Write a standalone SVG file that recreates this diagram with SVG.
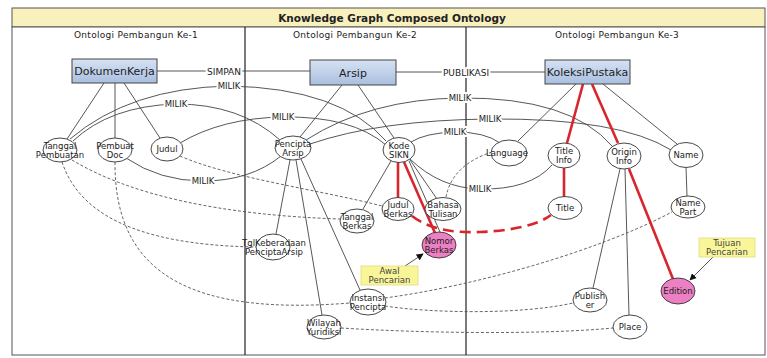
<svg xmlns="http://www.w3.org/2000/svg" width="767" height="358" viewBox="0 0 767 358">
<defs>
<linearGradient id="blueg" x1="0" y1="0" x2="0" y2="1">
<stop offset="0" stop-color="#d6e2f3"/>
<stop offset="1" stop-color="#a9bfdf"/>
</linearGradient>
<marker id="arr" viewBox="0 0 10 10" refX="9" refY="5" markerWidth="7" markerHeight="7" orient="auto" markerUnits="userSpaceOnUse">
<path d="M0,0 L10,5 L0,10 z" fill="#111"/>
</marker>
<style>
text{font-family:"DejaVu Sans","Liberation Sans",sans-serif;fill:#222;text-anchor:middle}
.title{font-size:10.5px;font-weight:bold}
.head{font-size:9px;letter-spacing:0.3px}
.rn{font-size:11px}
.nt{font-size:8.5px}
.lbl{font-size:8.5px;paint-order:stroke;stroke:#fff;stroke-width:4px;stroke-linejoin:round}
.rel{font-size:9px;paint-order:stroke;stroke:#fff;stroke-width:4px}
.box{fill:#f9f69a;stroke:#e3dc78;stroke-width:0.8}
.bt{font-size:8.5px;fill:#444}
.rect{fill:url(#blueg);stroke:#444;stroke-width:1}
.el{fill:#fff;stroke:#333;stroke-width:0.9}
.pink{fill:#ec80c2;stroke:#333;stroke-width:0.9}
.e{fill:none;stroke:#444;stroke-width:0.9}
.d{fill:none;stroke:#555;stroke-width:0.9;stroke-dasharray:3,2}
.r{fill:none;stroke:#d8262c;stroke-width:2.6}
.rd{fill:none;stroke:#d8262c;stroke-width:2.6;stroke-dasharray:11,6}
</style>
</defs>
<rect x="0" y="0" width="767" height="358" fill="#fff"/>
<g id="frame">
<rect x="12" y="8" width="753" height="19" fill="#f8f0bd" stroke="#555" stroke-width="1"/>
<rect x="12" y="27" width="753" height="328" fill="#fff" stroke="#555" stroke-width="1"/>
<line x1="245" y1="27" x2="245" y2="355" stroke="#222" stroke-width="1.2"/>
<line x1="466" y1="27" x2="466" y2="355" stroke="#222" stroke-width="1.2"/>
<text class="title" x="392" y="22">Knowledge Graph Composed Ontology</text>
<text class="head" x="136" y="38">Ontologi Pembangun Ke-1</text>
<text class="head" x="355" y="38">Ontologi Pembangun Ke-2</text>
<text class="head" x="617" y="38">Ontologi Pembangun Ke-3</text>
</g>
<g id="connectors">
<!-- solid black edges -->
<path class="e" d="M157,71 L310,71"/>
<path class="e" d="M396,72 L545,72"/>
<path class="e" d="M104,83 L67,139"/>
<path class="e" d="M115,83 L115,138"/>
<path class="e" d="M124,83 L160,138"/>
<path class="e" d="M342,85 L300,137"/>
<path class="e" d="M358,85 L394,138"/>
<path class="e" d="M576,84 L518,141"/>
<path class="e" d="M603,84 L677,144"/>
<path class="e" d="M620,169 L593,288"/>
<path class="e" d="M625,169 L629,315"/>
<path class="e" d="M686,167 L687,196"/>
<path class="e" d="M290,160 L276,234"/>
<path class="e" d="M296,160 L322,315"/>
<path class="e" d="M301,159 L360,290"/>
<path class="e" d="M391,161 L363,209"/>
<path class="e" d="M410,160 L437,199"/>
<path class="e" d="M409,161 L440,232"/>
<!-- MILIK curves -->
<path class="e" d="M70,139 Q130,88 229,86 Q340,88 386,141"/>
<path class="e" d="M73,141 Q110,106 176,104 Q240,104 280,140"/>
<path class="e" d="M180,143 Q222,118 283,117 Q352,116 386,145"/>
<path class="e" d="M126,158 Q160,181 203,181 Q250,181 281,156"/>
<path class="e" d="M306,140 Q370,99 460,98 Q570,97 612,146"/>
<path class="e" d="M310,144 Q380,120 490,119 Q620,118 671,150"/>
<path class="e" d="M411,142 Q425,133 455,132 Q485,132 500,143"/>
<path class="e" d="M410,159 Q440,188 480,189 Q530,190 552,165"/>
<!-- dashed edges -->
<path class="d" d="M62,162 C78,210 130,245 256,247"/>
<path class="d" d="M72,160 C130,195 220,215 340,219"/>
<path class="d" d="M115,162 C114,280 200,315 350,303"/>
<path class="d" d="M180,156 C230,178 320,190 382,206"/>
<path class="d" d="M385,298 C480,285 600,250 672,212"/>
<path class="d" d="M385,306 C430,313 520,315 573,303"/>
<path class="d" d="M341,328 C420,333 540,335 613,328"/>
<path class="d" d="M492,152 Q452,165 446,197"/>
<!-- red path -->
<path class="r" d="M583,84 L567,143"/>
<path class="r" d="M592,84 L618,143"/>
<path class="r" d="M564,168 L564,197"/>
<path class="r" d="M629,169 L673,279"/>
<path class="r" d="M398,162 L398,198"/>
<path class="r" d="M404,162 L435,233"/>
<path class="rd" d="M412,216 C430,230 455,233 480,232 S535,227 551,215"/>
<!-- annotation arrows -->
<path class="e" d="M405,266 L423,254" marker-end="url(#arr)"/>
<path class="e" d="M713,257 L690,280" marker-end="url(#arr)"/>
<!-- labels -->
<text class="rel" x="224" y="74.5">SIMPAN</text>
<text class="rel" x="466" y="75.5">PUBLIKASI</text>
<text class="lbl" x="229" y="89">MILIK</text>
<text class="lbl" x="176" y="107">MILIK</text>
<text class="lbl" x="283" y="120">MILIK</text>
<text class="lbl" x="203" y="184">MILIK</text>
<text class="lbl" x="460" y="101">MILIK</text>
<text class="lbl" x="490" y="122">MILIK</text>
<text class="lbl" x="455" y="135">MILIK</text>
<text class="lbl" x="480" y="192">MILIK</text>
</g>
<g id="DokumenKerja"><rect class="rect" x="72" y="59" width="85" height="24"/><text class="rn" x="114.5" y="75">DokumenKerja</text></g>
<g id="Arsip"><rect class="rect" x="310" y="60" width="86" height="25"/><text class="rn" x="353" y="76.5">Arsip</text></g>
<g id="KoleksiPustaka"><rect class="rect" x="545" y="60" width="85" height="24"/><text class="rn" x="587.5" y="76">KoleksiPustaka</text></g>
<g id="TanggalPembuatan"><ellipse class="el" cx="60" cy="150" rx="17" ry="12"/><text class="nt" x="60" y="148.5">Tanggal</text><text class="nt" x="60" y="157.5">Pembuatan</text></g>
<g id="PembuatDoc"><ellipse class="el" cx="115" cy="150" rx="17" ry="12"/><text class="nt" x="115" y="148.5">Pembuat</text><text class="nt" x="115" y="157.5">Doc</text></g>
<g id="Judul"><ellipse class="el" cx="167" cy="149" rx="16" ry="12"/><text class="nt" x="167" y="152">Judul</text></g>
<g id="PenciptaArsip"><ellipse class="el" cx="293" cy="148" rx="18" ry="12"/><text class="nt" x="293" y="146.5">Pencipta</text><text class="nt" x="293" y="155.5">Arsip</text></g>
<g id="KodeSIKN"><ellipse class="el" cx="399" cy="150" rx="16" ry="12.5"/><text class="nt" x="399" y="148.5">Kode</text><text class="nt" x="399" y="157.5">SIKN</text></g>
<g id="JudulBerkas"><ellipse class="el" cx="398" cy="209" rx="16" ry="11.5"/><text class="nt" x="398" y="207.5">Judul</text><text class="nt" x="398" y="216.5">Berkas</text></g>
<g id="BahasaTulisan"><ellipse class="el" cx="443" cy="209" rx="18" ry="11.5"/><text class="nt" x="443" y="207.5">Bahasa</text><text class="nt" x="443" y="216.5">Tulisan</text></g>
<g id="TanggalBerkas"><ellipse class="el" cx="357" cy="221" rx="17" ry="12"/><text class="nt" x="357" y="219.5">Tanggal</text><text class="nt" x="357" y="228.5">Berkas</text></g>
<g id="NomorBerkas"><ellipse class="pink" cx="439" cy="245" rx="17" ry="13"/><text class="nt" x="439" y="243.5">Nomor</text><text class="nt" x="439" y="252.5">Berkas</text></g>
<g id="TglKeberadaanPenciptaArsip"><ellipse class="el" cx="273" cy="247" rx="17" ry="13"/><text class="nt" x="274" y="245.5">TglKeberadaan</text><text class="nt" x="274" y="254.5">PenciptaArsip</text></g>
<g id="InstansiPencipta"><ellipse class="el" cx="368" cy="302" rx="18" ry="13"/><text class="nt" x="368" y="300.5">Instansi</text><text class="nt" x="368" y="309.5">Pencipta</text></g>
<g id="WilayahYuridiksi"><ellipse class="el" cx="324" cy="327" rx="17" ry="12"/><text class="nt" x="324" y="325.5">Wilayah</text><text class="nt" x="324" y="334.5">Yuridiksi</text></g>
<g id="Language"><ellipse class="el" cx="509" cy="153" rx="18" ry="13"/><text class="nt" x="507" y="156">Language</text></g>
<g id="TitleInfo"><ellipse class="el" cx="564" cy="155.5" rx="16" ry="12.5"/><text class="nt" x="564" y="154">Title</text><text class="nt" x="564" y="163">Info</text></g>
<g id="OriginInfo"><ellipse class="el" cx="624" cy="156" rx="17" ry="13"/><text class="nt" x="624" y="154.5">Origin</text><text class="nt" x="624" y="163.5">Info</text></g>
<g id="Name"><ellipse class="el" cx="686" cy="155" rx="17" ry="12.5"/><text class="nt" x="686" y="158">Name</text></g>
<g id="Title"><ellipse class="el" cx="565" cy="208" rx="17" ry="11.5"/><text class="nt" x="565" y="211">Title</text></g>
<g id="NamePart"><ellipse class="el" cx="688" cy="207" rx="17" ry="11"/><text class="nt" x="688" y="205.5">Name</text><text class="nt" x="688" y="214.5">Part</text></g>
<g id="Publisher"><ellipse class="el" cx="590" cy="300" rx="17" ry="12"/><text class="nt" x="590" y="298.5">Publish</text><text class="nt" x="590" y="307.5">er</text></g>
<g id="Place"><ellipse class="el" cx="630" cy="327" rx="17" ry="12"/><text class="nt" x="630" y="330">Place</text></g>
<g id="Edition"><ellipse class="pink" cx="678" cy="291" rx="17" ry="13"/><text class="nt" x="678" y="294">Edition</text></g>
<g id="AwalPencarian"><rect class="box" x="361" y="266" width="57" height="19"/><text class="bt" x="389.5" y="273.5">Awal</text><text class="bt" x="389.5" y="282.5">Pencarian</text></g>
<g id="TujuanPencarian"><rect class="box" x="699" y="238" width="56" height="19"/><text class="bt" x="727" y="245.5">Tujuan</text><text class="bt" x="727" y="254.5">Pencarian</text></g>
</svg>
